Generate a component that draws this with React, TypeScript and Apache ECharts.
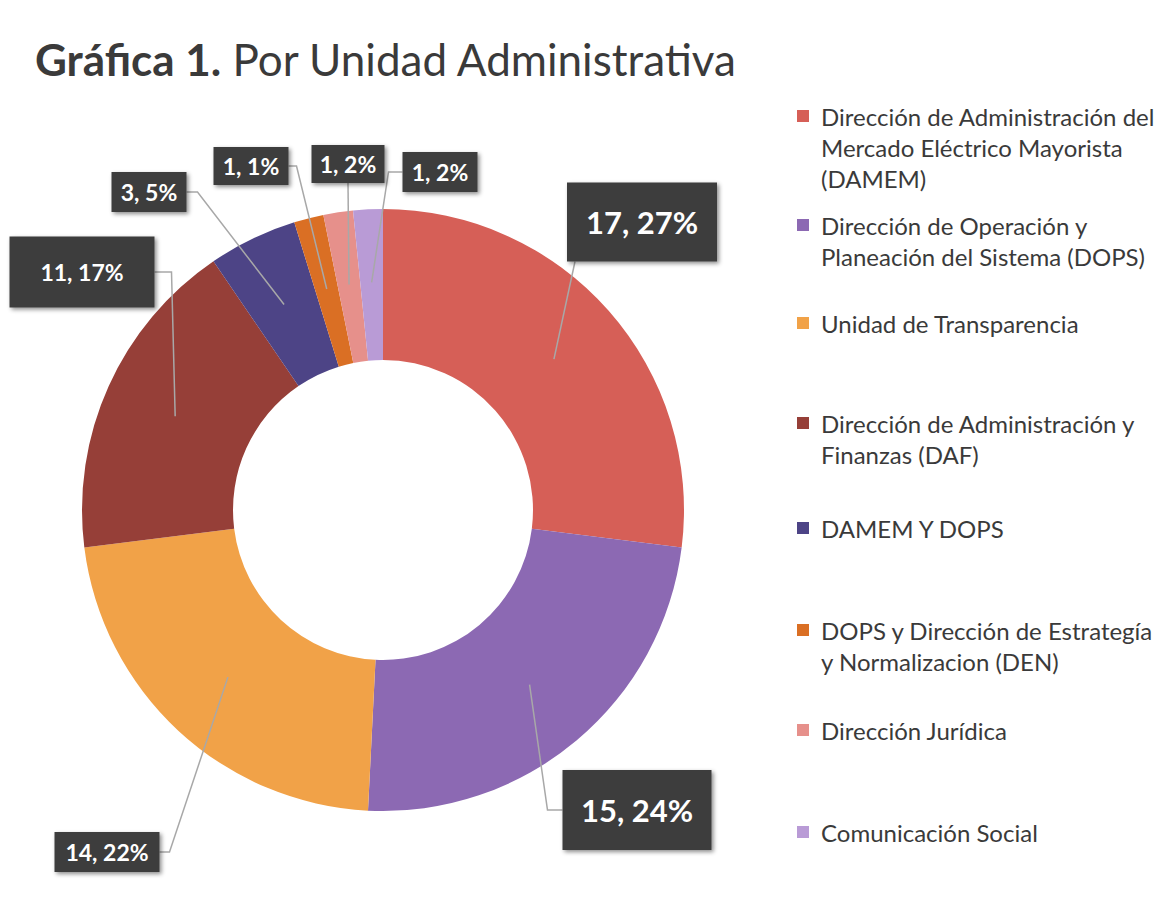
import React, { useEffect, useRef } from "react";
import * as echarts from "echarts";

const titleBold = "Gráfica 1.";
const titleRest = " Por Unidad Administrativa";

const categories = [
  "Dirección de Administración del\nMercado Eléctrico Mayorista\n(DAMEM)",
  "Dirección de Operación y\nPlaneación del Sistema (DOPS)",
  "Unidad de Transparencia",
  "Dirección de Administración y\nFinanzas (DAF)",
  "DAMEM Y DOPS",
  "DOPS y Dirección de Estrategía\ny Normalizacion (DEN)",
  "Dirección Jurídica",
  "Comunicación Social",
];
const values = [17, 15, 14, 11, 3, 1, 1, 1];
const percentLabels = [27, 24, 22, 17, 5, 1, 2, 2];
const colors = ["#d65f57", "#8c69b3", "#f1a248", "#963f38", "#4d4486", "#da6f24", "#e6908b", "#b99bd6"];

// layout (positions / sizes only)
const CX = 383;
const CY = 510;
const R_IN = 150;
const R_OUT = 301;
const R_LINE = 228;
const labelBoxes = [
  { x: 642, y: 222, w: 150, h: 79, fs: 31, side: "bottom", ox: -67, e: 0 },
  { x: 637, y: 810, w: 149, h: 80, fs: 31, side: "left", ox: 0, e: 15 },
  { x: 107, y: 852, w: 105, h: 40, fs: 23, side: "right", ox: 0, e: 10 },
  { x: 82, y: 272, w: 145, h: 71, fs: 23, side: "right", ox: 0, e: 17 },
  { x: 149, y: 192, w: 75, h: 40, fs: 23, side: "right", ox: 0, e: 11 },
  { x: 251, y: 166, w: 75, h: 38, fs: 23, side: "right", ox: 0, e: 8 },
  { x: 348, y: 164, w: 73, h: 38, fs: 23, side: "bottom", ox: 0, e: 0 },
  { x: 440, y: 172, w: 75, h: 40, fs: 23, side: "left", ox: 0, e: 14 },
];
const legendBaselines = [126, 235, 333, 433, 538, 640, 740, 842];

const FONT = "Lato, 'Open Sans', sans-serif";

export default function App() {
  const ref = useRef<HTMLDivElement>(null);

  useEffect(() => {
    const chart = echarts.init(ref.current!, undefined, { renderer: "svg" });
    const total = values.reduce((a, b) => a + b, 0);
    const mids: number[] = [];
    let cum = 0;
    values.forEach((v) => {
      mids.push(((cum + v / 2) / total) * Math.PI * 2);
      cum += v;
    });

    const names = categories.map((c) => c.replace(/\n/g, " "));

    const sliceData = values.map((v, i) => ({
      value: v,
      name: names[i],
      itemStyle: { color: colors[i] },
    }));

    const labelData = values.map((v, i) => ({
      value: v,
      name: names[i],
      itemStyle: { color: "rgba(0,0,0,0)" },
      label: {
        fontSize: labelBoxes[i].fs,
        width: labelBoxes[i].w,
        height: labelBoxes[i].h,
        lineHeight: labelBoxes[i].h,
      },
    }));

    const legendGraphics: any[] = [];
    categories.forEach((c, i) => {
      const b = legendBaselines[i];
      legendGraphics.push({
        type: "rect",
        shape: { x: 797, y: b - 16, width: 12, height: 12 },
        style: { fill: colors[i] },
      });
      legendGraphics.push({
        type: "text",
        x: 821,
        y: b - 25,
        style: {
          text: c,
          fontFamily: FONT,
          fontSize: 24,
          lineHeight: 31,
          fill: "#3a3a3a",
          verticalAlign: "top",
        },
      });
    });

    chart.setOption({
      animation: false,
      backgroundColor: "#ffffff",
      graphic: [
        {
          type: "text",
          x: 35,
          y: 37,
          style: {
            text: `{b|${titleBold}}{r|${titleRest}}`,
            rich: {
              b: { fontFamily: FONT, fontSize: 44, fontWeight: "bold", fill: "#3a3a3a" },
              r: { fontFamily: FONT, fontSize: 44, fill: "#3a3a3a" },
            },
          },
        },
        ...legendGraphics,
      ],
      series: [
        {
          type: "pie",
          z: 2,
          center: [CX, CY],
          radius: [R_IN, R_OUT],
          startAngle: 90,
          clockwise: true,
          silent: true,
          data: sliceData,
          label: { show: false },
          labelLine: { show: false },
        },
        {
          type: "pie",
          z: 5,
          center: [CX, CY],
          radius: [R_IN, R_OUT],
          startAngle: 90,
          clockwise: true,
          silent: true,
          avoidLabelOverlap: false,
          data: labelData,
          label: {
            show: true,
            position: "outside",
            formatter: (p: any) => `${values[p.dataIndex]}, ${percentLabels[p.dataIndex]}%`,
            fontFamily: FONT,
            fontWeight: "bold",
            color: "#ffffff",
            backgroundColor: "#3e3e3e",
            padding: 0,
            align: "center",
            verticalAlign: "middle",
            shadowColor: "rgba(0,0,0,0.45)",
            shadowBlur: 4,
            shadowOffsetX: 2,
            shadowOffsetY: 2,
          },
          labelLine: {
            show: true,
            length: 10,
            length2: 10,
            lineStyle: { color: "#a8a8a8", width: 1.5 },
          },
          labelLayout: (params: any) => {
            const i = params.dataIndex;
            const bx = labelBoxes[i];
            const th = mids[i];
            const A = [CX + R_LINE * Math.sin(th), CY - R_LINE * Math.cos(th)];
            let end: number[];
            let elbow: number[];
            if (bx.side === "right") {
              end = [bx.x + bx.w / 2, bx.y];
              elbow = [end[0] + bx.e, end[1]];
            } else if (bx.side === "left") {
              end = [bx.x - bx.w / 2, bx.y];
              elbow = [end[0] - bx.e, end[1]];
            } else {
              end = [bx.x + bx.ox, bx.y + bx.h / 2];
              elbow = [end[0], end[1] + bx.e];
            }
            return {
              x: bx.x,
              y: bx.y,
              align: "center",
              verticalAlign: "middle",
              labelLinePoints: [A, elbow, end],
            };
          },
        },
      ],
    });
    return () => chart.dispose();
  }, []);

  return (
    <div
      ref={ref}
      style={{ position: "fixed", left: 0, top: 0, width: 1167, height: 921, background: "#fff" }}
    />
  );
}
